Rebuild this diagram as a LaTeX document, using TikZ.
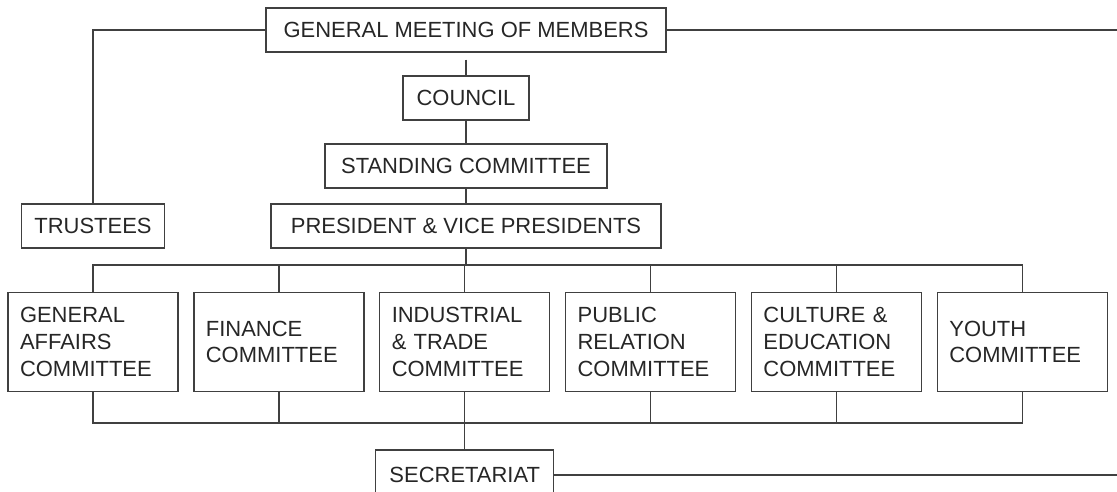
\documentclass[tikz,border=0pt]{standalone}
\usepackage{fontspec}
\setmainfont{Liberation Sans}
\usetikzlibrary{positioning}

\begin{document}
\begin{tikzpicture}[x=0.02cm, y=-0.02cm,
    box/.style={draw=black!75, line width=0.8pt, text=black!85,
        font=\fontsize{12.5}{15.2}\selectfont,
        minimum height=0.88cm, inner sep=0pt},
    cbox/.style={box, text width=2.92cm, align=left,
        inner xsep=0.24cm, minimum height=1.98cm},
    link/.style={draw=black!75, line width=0.8pt}]
    \useasboundingbox (0,0) rectangle (1117,492);

    % top of the chart
    \node[box, minimum width=8cm] (gm) at (466,30) {GENERAL MEETING OF MEMBERS};
    \node[box, minimum width=2.52cm] (council) at (466,98) {COUNCIL};
    \node[box, minimum width=5.64cm] (standing) at (466,166) {STANDING COMMITTEE};
    \node[box, minimum width=7.8cm] (pres) at (466,226) {PRESIDENT \& VICE PRESIDENTS};
    \node[box, minimum width=2.86cm] (trustees) at (93,226) {TRUSTEES};

    % committees
    \node[cbox] (genaff) at (93,342) {GENERAL\\AFFAIRS\\COMMITTEE};
    \node[cbox, right=0.29cm of genaff] (finance) {FINANCE\\COMMITTEE};
    \node[cbox, right=0.29cm of finance] (trade) {INDUSTRIAL\\\& TRADE\\COMMITTEE};
    \node[cbox, right=0.29cm of trade] (public) {PUBLIC\\RELATION\\COMMITTEE};
    \node[cbox, right=0.29cm of public] (culture) {CULTURE \&\\EDUCATION\\COMMITTEE};
    \node[cbox, right=0.29cm of culture] (youth) {YOUTH\\COMMITTEE};

    \node[box, minimum width=3.56cm, minimum height=1cm] (secr) at (trade |- 0,475) {SECRETARIAT};

    \coordinate (gmend) at (1117,30);
    \coordinate (secrend) at (1117,475);
    \coordinate (topbus) at (466,265);
    \coordinate (lowbus) at (466,423);

    % lines
    \draw[link] (gm.west) -| (trustees.north);
    \draw[link] (gm.east) -- (gmend);
    \draw[link, shorten <=0.14cm] (gm.south) -- (council.north);
    \draw[link] (council) -- (standing);
    \draw[link] (standing) -- (pres);
    \draw[link] (pres.south) -- (pres.south |- topbus);

    \draw[link] (genaff.north) -- (genaff.north |- topbus) -- (youth.north |- topbus) -- (youth.north);
    \draw[link] (finance.north) -- (finance.north |- topbus);
    \draw[link] (trade.north) -- (trade.north |- topbus);
    \draw[link] (public.north) -- (public.north |- topbus);
    \draw[link] (culture.north) -- (culture.north |- topbus);

    \draw[link] (genaff.south) -- (genaff.south |- lowbus) -- (youth.south |- lowbus) -- (youth.south);
    \draw[link] (finance.south) -- (finance.south |- lowbus);
    \draw[link] (public.south) -- (public.south |- lowbus);
    \draw[link] (culture.south) -- (culture.south |- lowbus);
    \draw[link] (trade.south) -- (secr.north);
    \draw[link] (secr.east) -- (secrend);
\end{tikzpicture}
\end{document}
